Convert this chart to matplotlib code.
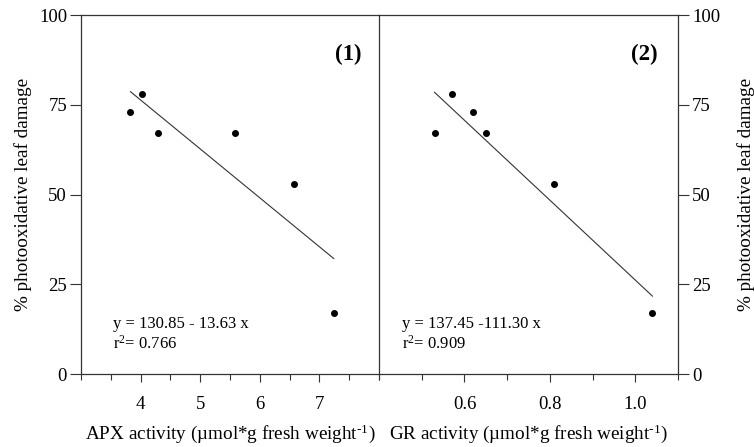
import matplotlib
matplotlib.use("Agg")
import numpy as np
import matplotlib.pyplot as plt
from matplotlib.ticker import MultipleLocator

# data
apx = [3.83, 4.02, 4.30, 5.58, 6.58, 7.24]
damage_apx = [73, 78, 67, 67, 53, 17]
gr = [0.53, 0.57, 0.62, 0.65, 0.81, 1.04]
damage_gr = [67, 78, 73, 67, 53, 17]

fit_apx = (130.85, -13.63)
fit_gr = (137.45, -111.30)

plt.rcParams['font.family'] = ['Liberation Serif', 'DejaVu Serif']
plt.rcParams['mathtext.fontset'] = 'custom'
plt.rcParams['mathtext.rm'] = 'Liberation Serif'
plt.rcParams['mathtext.it'] = 'Liberation Serif'
plt.rcParams['axes.unicode_minus'] = False

fig = plt.figure(figsize=(7.54, 4.47), dpi=100)
ax1 = fig.add_axes([0.1074, 0.1633, 0.3953, 0.8031])
ax2 = fig.add_axes([0.5027, 0.1633, 0.3966, 0.8031])
ax2.patch.set_visible(False)

lc = '#333333'
ylabel = '% photooxidative leaf damage'
sup = '$^{\\text{-1}}$'

for ax, xs, ys, fit in [(ax1, apx, damage_apx, fit_apx), (ax2, gr, damage_gr, fit_gr)]:
    xx = np.array([min(xs), max(xs)])
    ax.plot(xx, fit[0] + fit[1] * xx, color=lc, lw=0.8)
    ax.plot(xs, ys, 'o', color='black', ms=4)
    ax.set_ylim(0, 100)
    ax.set_yticks([0, 25, 50, 75, 100])
    for s in ax.spines.values():
        s.set_color(lc)
        s.set_linewidth(0.9)
    ax.tick_params(direction='out', which='major', length=6, width=0.8,
                   color=lc, labelsize=13.5)
    ax.tick_params(direction='out', which='minor', length=4, width=0.8, color=lc)
    ax.tick_params(axis='x', pad=10)
    ax.tick_params(axis='y', length=8, pad=2)

ax1.set_xlim(3, 8)
ax1.set_xticks([4, 5, 6, 7])
ax1.xaxis.set_minor_locator(MultipleLocator(0.5))
ax1.set_ylabel(ylabel, fontsize=13.8, labelpad=5)
ax1.set_xlabel('APX activity (µmol*g fresh weight' + sup + ')', fontsize=13.8, labelpad=7)
ax1.text(0.896, 0.89, '(1)', transform=ax1.transAxes, fontsize=16.5,
         fontweight='bold', ha='center', va='center')
ax1.text(0.107, 0.14, 'y = 130.85 - 13.63 x', transform=ax1.transAxes,
         fontsize=12, va='center')
ax1.text(0.107, 0.084, 'r$^2$= 0.766', transform=ax1.transAxes,
         fontsize=12, va='center')

ax2.set_xlim(0.4, 1.1)
ax2.set_xticks([0.6, 0.8, 1.0])
ax2.set_xticklabels(['0.6', '0.8', '1.0'])
ax2.xaxis.set_minor_locator(MultipleLocator(0.1))
ax2.spines['left'].set_visible(False)
ax2.yaxis.tick_right()
ax2.yaxis.set_label_position('right')
ax2.set_ylabel(ylabel, fontsize=13.8, labelpad=12)
ax2.set_xlabel('GR activity (µmol*g fresh weight' + sup + ')', fontsize=13.8, labelpad=7)
ax2.text(0.886, 0.89, '(2)', transform=ax2.transAxes, fontsize=16.5,
         fontweight='bold', ha='center', va='center')
ax2.text(0.077, 0.14, 'y = 137.45 -111.30 x', transform=ax2.transAxes,
         fontsize=12, va='center')
ax2.text(0.077, 0.084, 'r$^2$= 0.909', transform=ax2.transAxes,
         fontsize=12, va='center')

fig.savefig('out.png', dpi=100)
